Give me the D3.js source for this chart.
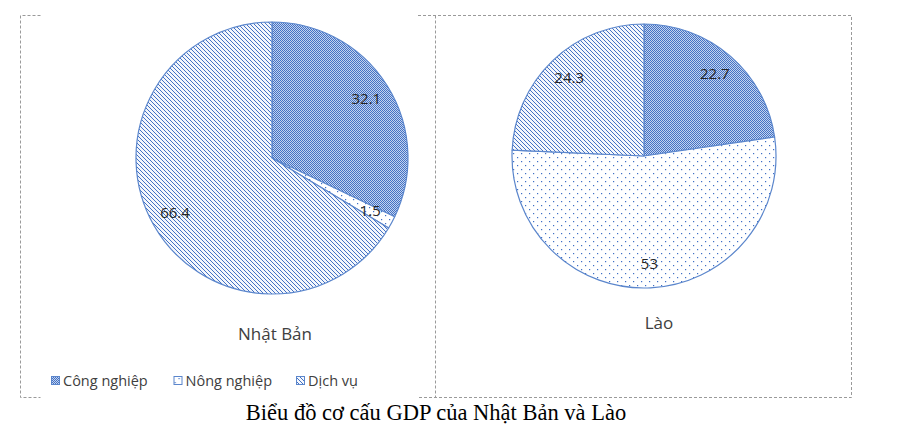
<!DOCTYPE html>
<html><head><meta charset="utf-8">
<script src="https://cdn.jsdelivr.net/npm/d3@7"></script>
<style>body{margin:0;background:#fff}svg{display:block}</style>
</head><body>
<script>
const categories = ["Công nghiệp", "Nông nghiệp", "Dịch vụ"];
const japanValues = [32.1, 1.5, 66.4];
const laosValues = [22.7, 53, 24.3];
const chartNames = ["Nhật Bản", "Lào"];
const mainTitle = "Biểu đồ cơ cấu GDP của Nhật Bản và Lào";

const W = 919, H = 431;
const blue = "#4472C4";
const svg = d3.select("body").append("svg").attr("width", W).attr("height", H);
const defs = svg.append("defs");

// patterns
const pCheck = defs.append("pattern").attr("id","pat0").attr("patternUnits","userSpaceOnUse").attr("width",2).attr("height",2);
pCheck.append("rect").attr("width",2).attr("height",2).attr("fill","#c3d3ef");
pCheck.append("rect").attr("x",0).attr("y",0).attr("width",1).attr("height",1).attr("fill",blue);
pCheck.append("rect").attr("x",1).attr("y",1).attr("width",1).attr("height",1).attr("fill",blue);

const pDot = defs.append("pattern").attr("id","pat1").attr("patternUnits","userSpaceOnUse").attr("width",8).attr("height",8);
pDot.append("rect").attr("width",8).attr("height",8).attr("fill","#fff");
pDot.append("rect").attr("x",1).attr("y",1).attr("width",1.2).attr("height",1.2).attr("fill","#3f6fc6");
pDot.append("rect").attr("x",5).attr("y",5).attr("width",1.2).attr("height",1.2).attr("fill","#3f6fc6");

const pDiag = defs.append("pattern").attr("id","pat2").attr("patternUnits","userSpaceOnUse").attr("width",4).attr("height",4);
pDiag.append("rect").attr("width",4).attr("height",4).attr("fill","#f4f7fc");
pDiag.append("path").attr("d","M-1,-1L5,5M-1,3L1,5M3,-1L5,1").attr("stroke",blue).attr("stroke-width",1);

const fills = d3.scaleOrdinal().domain(categories).range(["url(#pat0)","url(#pat1)","url(#pat2)"]);

// frames
const frame = svg.append("g").attr("fill","none").attr("stroke","#9a9a9a").attr("stroke-width",1).attr("stroke-dasharray","3,2");
frame.append("path").attr("d","M40.5,15.5H20.5V397.5H40.5");
frame.append("path").attr("d","M418,15.5H851.5V397.5H419");
frame.append("path").attr("d","M435.5,15.5V397.5");

const pie = d3.pie().sort(null).value(d => d.v);
const charts = [
  {name: chartNames[0], values: japanValues, cx: 272, cy: 158, r: 136, tx: 275, ty: 340},
  {name: chartNames[1], values: laosValues, cx: 644, cy: 156, r: 132, tx: 659, ty: 329}
];

charts.forEach(c => {
  const data = categories.map((k,i) => ({k, v: c.values[i]}));
  const arcs = pie(data);
  const arc = d3.arc().innerRadius(0).outerRadius(c.r);
  const lab = d3.arc().innerRadius(c.r*0.82).outerRadius(c.r*0.82);
  const g = svg.append("g").attr("transform",`translate(${c.cx},${c.cy})`);
  g.selectAll("path").data(arcs).join("path")
    .attr("d", arc).attr("fill", d => fills(d.data.k))
    .attr("stroke", "#5b86cc").attr("stroke-width", 1.2).attr("stroke-linejoin","round");
  g.selectAll("text").data(arcs).join("text")
    .attr("transform", d => `translate(${lab.centroid(d)})`)
    .attr("text-anchor","middle").attr("dy","0.35em")
    .attr("font-family","'Open Sans', sans-serif").attr("font-size",15).attr("fill","#262626")
    .text(d => d.data.v);
  svg.append("text").attr("x",c.tx).attr("y",c.ty).attr("text-anchor","middle")
    .attr("font-family","'Open Sans', sans-serif").attr("font-size",17).attr("fill","#404040")
    .text(c.name);
});

// legend
const legX = d3.scalePoint().domain(categories).range([51, 296]);
const leg = svg.append("g").selectAll("g").data(categories).join("g")
  .attr("transform", d => `translate(${legX(d)},381)`);
leg.append("rect").attr("x",0.5).attr("y",-4.5).attr("width",8).attr("height",8)
  .attr("fill", d => fills(d)).attr("stroke","#5b86cc").attr("stroke-width",1);
leg.append("text").attr("x",12).attr("y",0).attr("dy","0.35em")
  .attr("font-family","'Open Sans', sans-serif").attr("font-size",14.5).attr("fill","#404040")
  .text(d => d);

svg.append("text").attr("x",436).attr("y",420).attr("text-anchor","middle")
  .attr("font-family","'Liberation Serif', 'Times New Roman', serif").attr("font-size",22.5).attr("fill","#000")
  .text(mainTitle);
</script>
</body></html>
